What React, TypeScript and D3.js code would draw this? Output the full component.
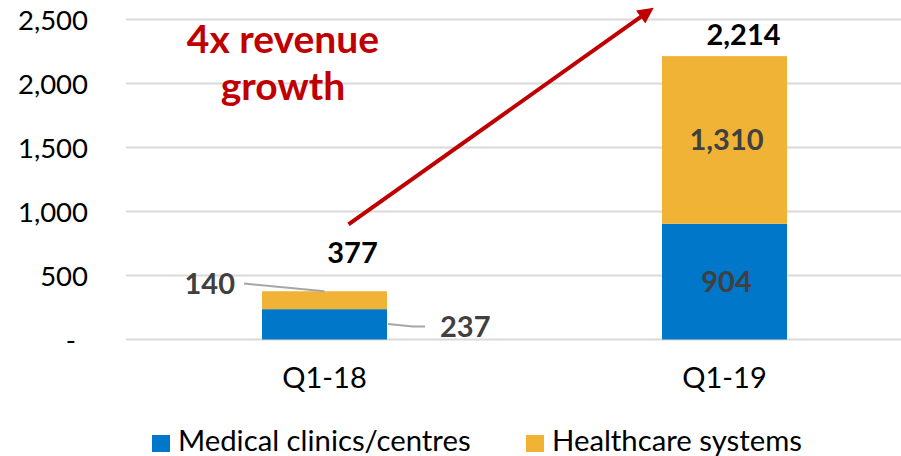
import React from "react";
import * as d3 from "d3";

const categories = ["Q1-18", "Q1-19"];
const medical = [237, 904];
const healthcare = [140, 1310];
const totals = [377, 2214];
const yTicks = [0, 500, 1000, 1500, 2000, 2500];
const seriesNames = ["Medical clinics/centres", "Healthcare systems"];
const colors = ["#0077c8", "#f0b335"];

const W = 901;
const H = 456;
const FONT = "Lato, 'Open Sans', sans-serif";

export default function App() {
  const x = d3
    .scaleBand<string>()
    .domain(categories)
    .range([124.5, 924.5])
    .paddingInner(0.6875)
    .paddingOuter(0.34375);
  const y = d3.scaleLinear().domain([0, 2500]).range([339.5, 19.5]);
  const bw = x.bandwidth();
  const fmt = d3.format(",");
  const cx = (c: string) => (x(c) as number) + bw / 2;

  const arrowStart = [cx(categories[0]) + 24, y(900)];
  const arrowEnd = [cx(categories[1]) - 68, y(2610)];

  return (
    <svg
      width={W}
      height={H}
      style={{ position: "absolute", left: 0, top: 0, background: "#fff" }}
      fontFamily={FONT}
    >
      <defs>
        <marker
          id="arr"
          viewBox="0 0 10 10"
          refX="6"
          refY="5"
          markerWidth="4.2"
          markerHeight="4"
          orient="auto"
          markerUnits="strokeWidth"
        >
          <path d="M0,0 L10,5 L0,10 z" fill="#c00000" />
        </marker>
      </defs>

      {/* gridlines */}
      {yTicks.map((t) => (
        <line
          key={t}
          x1={126}
          x2={W}
          y1={y(t)}
          y2={y(t)}
          stroke="#d9d9d9"
          strokeWidth={2}
        />
      ))}

      {/* y tick labels */}
      {yTicks.map((t) => (
        <text
          key={"l" + t}
          x={t === 0 ? 76 : 88}
          y={y(t) + 10}
          textAnchor="end"
          fontSize={27.5}
          fill="#000"
        >
          {t === 0 ? "-" : fmt(t)}
        </text>
      ))}

      {/* bars */}
      {categories.map((c, i) => (
        <g key={c}>
          <rect
            x={x(c)}
            y={y(medical[i])}
            width={bw}
            height={y(0) - y(medical[i])}
            fill={colors[0]}
          />
          <rect
            x={x(c)}
            y={y(medical[i] + healthcare[i])}
            width={bw}
            height={y(medical[i]) - y(medical[i] + healthcare[i])}
            fill={colors[1]}
          />
        </g>
      ))}

      {/* Q1-18 segment labels with leader lines */}
      <path
        d={`M${x(categories[0])! - 18},${y(0) - 56} L${cx(categories[0])},${y(medical[0] + healthcare[0])}`}
        stroke="#a6a6a6"
        strokeWidth={2}
        fill="none"
      />
      <text
        x={x(categories[0])! - 27}
        y={294}
        textAnchor="end"
        fontSize={29}
        fontWeight={700}
        fill="#404040"
      >
        {fmt(healthcare[0])}
      </text>
      <path
        d={`M${x(categories[0])! + bw + 1},${y(0) - 15.5} L${x(categories[0])! + bw + 26},${y(0) - 13} L${x(categories[0])! + bw + 38},${y(0) - 13}`}
        stroke="#a6a6a6"
        strokeWidth={2}
        fill="none"
      />
      <text
        x={x(categories[0])! + bw + 53}
        y={337}
        textAnchor="start"
        fontSize={29}
        fontWeight={700}
        fill="#404040"
      >
        {fmt(medical[0])}
      </text>

      {/* Q1-19 inside labels */}
      <text
        x={cx(categories[1]) + 2}
        y={(y(medical[1]) + y(0)) / 2 + 10}
        textAnchor="middle"
        fontSize={29}
        fontWeight={700}
        fill="#404040"
      >
        {fmt(medical[1])}
      </text>
      <text
        x={cx(categories[1]) + 2}
        y={(y(medical[1] + healthcare[1]) + y(medical[1])) / 2 + 10}
        textAnchor="middle"
        fontSize={29}
        fontWeight={700}
        fill="#404040"
      >
        {fmt(healthcare[1])}
      </text>

      {/* totals */}
      <text
        x={cx(categories[0]) + 28}
        y={y(totals[0]) - 28}
        textAnchor="middle"
        fontSize={29}
        fontWeight={700}
        fill="#000"
      >
        {fmt(totals[0])}
      </text>
      <text
        x={cx(categories[1]) + 19}
        y={y(totals[1]) - 11}
        textAnchor="middle"
        fontSize={29}
        fontWeight={700}
        fill="#000"
      >
        {fmt(totals[1])}
      </text>

      {/* category labels */}
      {categories.map((c) => (
        <text
          key={"c" + c}
          x={cx(c)}
          y={388}
          textAnchor="middle"
          fontSize={29}
          fill="#000"
        >
          {c}
        </text>
      ))}

      {/* arrow annotation */}
      <line
        x1={arrowStart[0]}
        y1={arrowStart[1]}
        x2={arrowEnd[0] - 8}
        y2={arrowEnd[1] + 6}
        stroke="#c00000"
        strokeWidth={4}
        markerEnd="url(#arr)"
      />
      <text
        x={283}
        y={53}
        textAnchor="middle"
        fontSize={39}
        fontWeight={700}
        fill="#c00000"
      >
        4x revenue
      </text>
      <text
        x={283}
        y={100}
        textAnchor="middle"
        fontSize={39}
        fontWeight={700}
        fill="#c00000"
      >
        growth
      </text>

      {/* legend */}
      <rect x={152} y={435} width={18} height={17} fill={colors[0]} />
      <text x={178} y={451} fontSize={29.3} fill="#000">
        {seriesNames[0]}
      </text>
      <rect x={526} y={435} width={18} height={17} fill={colors[1]} />
      <text x={552} y={451} fontSize={29.3} fill="#000">
        {seriesNames[1]}
      </text>
    </svg>
  );
}
